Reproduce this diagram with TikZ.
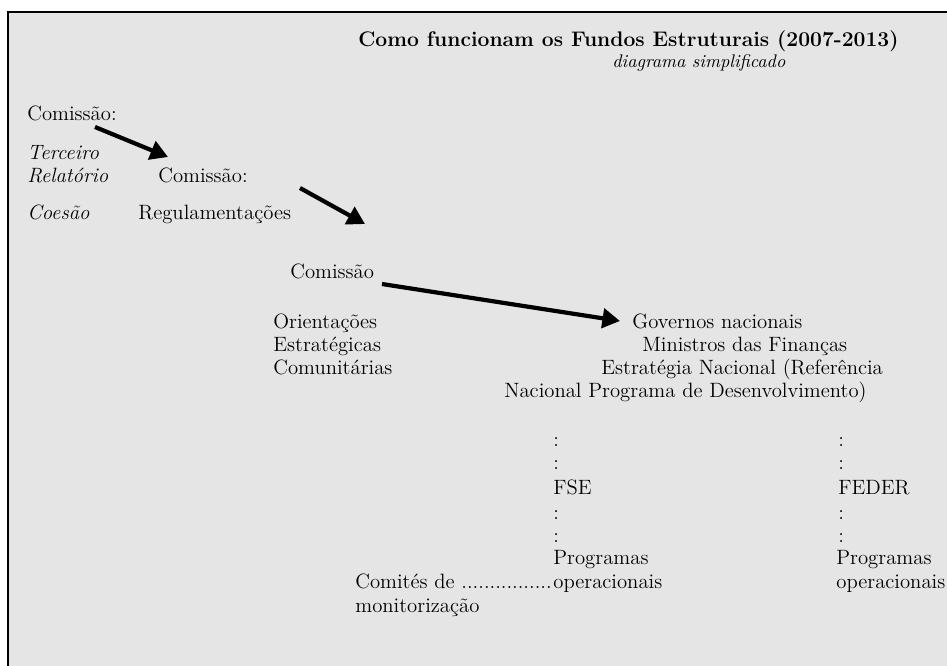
\documentclass[tikz,border=0pt]{standalone}
\usepackage{tikz}
\usetikzlibrary{arrows.meta, positioning}
\definecolor{fundo}{gray}{0.9}
\tikzset
{%
txt/.style={anchor=base west, inner sep=0pt, font=\fontsize{11.8}{13}\selectfont},
itxt/.style={txt, font=\fontsize{11.8}{13}\selectfont\itshape},
titulo/.style={anchor=base west, inner sep=0pt, font=\fontsize{12}{14}\selectfont\bfseries},
sub/.style={anchor=base west, inner sep=0pt, font=\fontsize{10.4}{12}\selectfont\itshape},
seta/.style={line width=2.4pt, -{Triangle[length=10pt, width=11pt]}}
}

\begin{document}
\begin{tikzpicture}[x=0.02cm, y=-0.02cm]
		\useasboundingbox (0,0) rectangle (947,666);
		\fill[fundo] (9,13) rectangle (947,666);
		\draw[line width=1.6pt] (8,666) -- (8,12) -- (947,12);
		
		%Titulo
		\node[titulo] (tit) at (358,46) {Como funcionam os Fundos Estruturais (2007-2013)};
		\node[sub] (subt) at (612,67) {diagrama simplificado};
		
		%Coluna da esquerda
		\node[txt] (com1) at (27,120) {Comissão:};
		\node[itxt] (terc) at (27,159) {Terceiro};
		\node[itxt] (rel) at (27,182) {Relatório};
		\node[itxt] (coe) at (27,219) {Coesão};
		\node[txt] (com2) at (158,182) {Comissão:};
		\node[txt] (reg) at (138,219) {Regulamentações};
		\node[txt] (com3) at (290,278) {Comissão};
		\node[txt] (ori) at (273,328) {Orientações};
		\node[txt] (est) at (273,351) {Estratégicas};
		\node[txt] (comu) at (273,374) {Comunitárias};
		
		%Bloco nacional
		\node[txt] (gov) at (632,328) {Governos nacionais};
		\node[txt] (min) at (642,351) {Ministros das Finanças};
		\node[txt] (enac) at (601,374) {Estratégia Nacional (Referência};
		\node[txt] (nprog) at (504,397) {Nacional Programa de Desenvolvimento)};
		
		%FSE
		\node[txt] (c1) at (553,446) {:};
		\node[txt] (c2) at (553,469) {:};
		\node[txt] (fse) at (553,494) {FSE};
		\node[txt] (c3) at (553,519) {:};
		\node[txt] (c4) at (553,542) {:};
		\node[txt] (prog1) at (553,564) {Programas};
		\node[txt] (oper1) at (553,588) {operacionais};
		\node[txt] (comit) at (355,588) {Comités de ................};
		\node[txt] (monit) at (355,612) {monitorização};
		
		%FEDER
		\node[txt] (d1) at (838,446) {:};
		\node[txt] (d2) at (838,469) {:};
		\node[txt] (feder) at (838,494) {FEDER};
		\node[txt] (d3) at (838,519) {:};
		\node[txt] (d4) at (838,542) {:};
		\node[txt] (prog2) at (836,564) {Programas};
		\node[txt] (oper2) at (836,588) {operacionais};
		
		\coordinate (s1) at (95,127);
		\coordinate (t1) at (168,157);
		\coordinate (s2) at (300,188);
		\coordinate (t2) at (365,224);
		\coordinate (s3) at (382,284);
		\coordinate (t3) at (620,321);
		\path[seta] (s1) edge (t1) (s2) edge (t2) (s3) edge (t3);
	\end{tikzpicture}
\end{document}
